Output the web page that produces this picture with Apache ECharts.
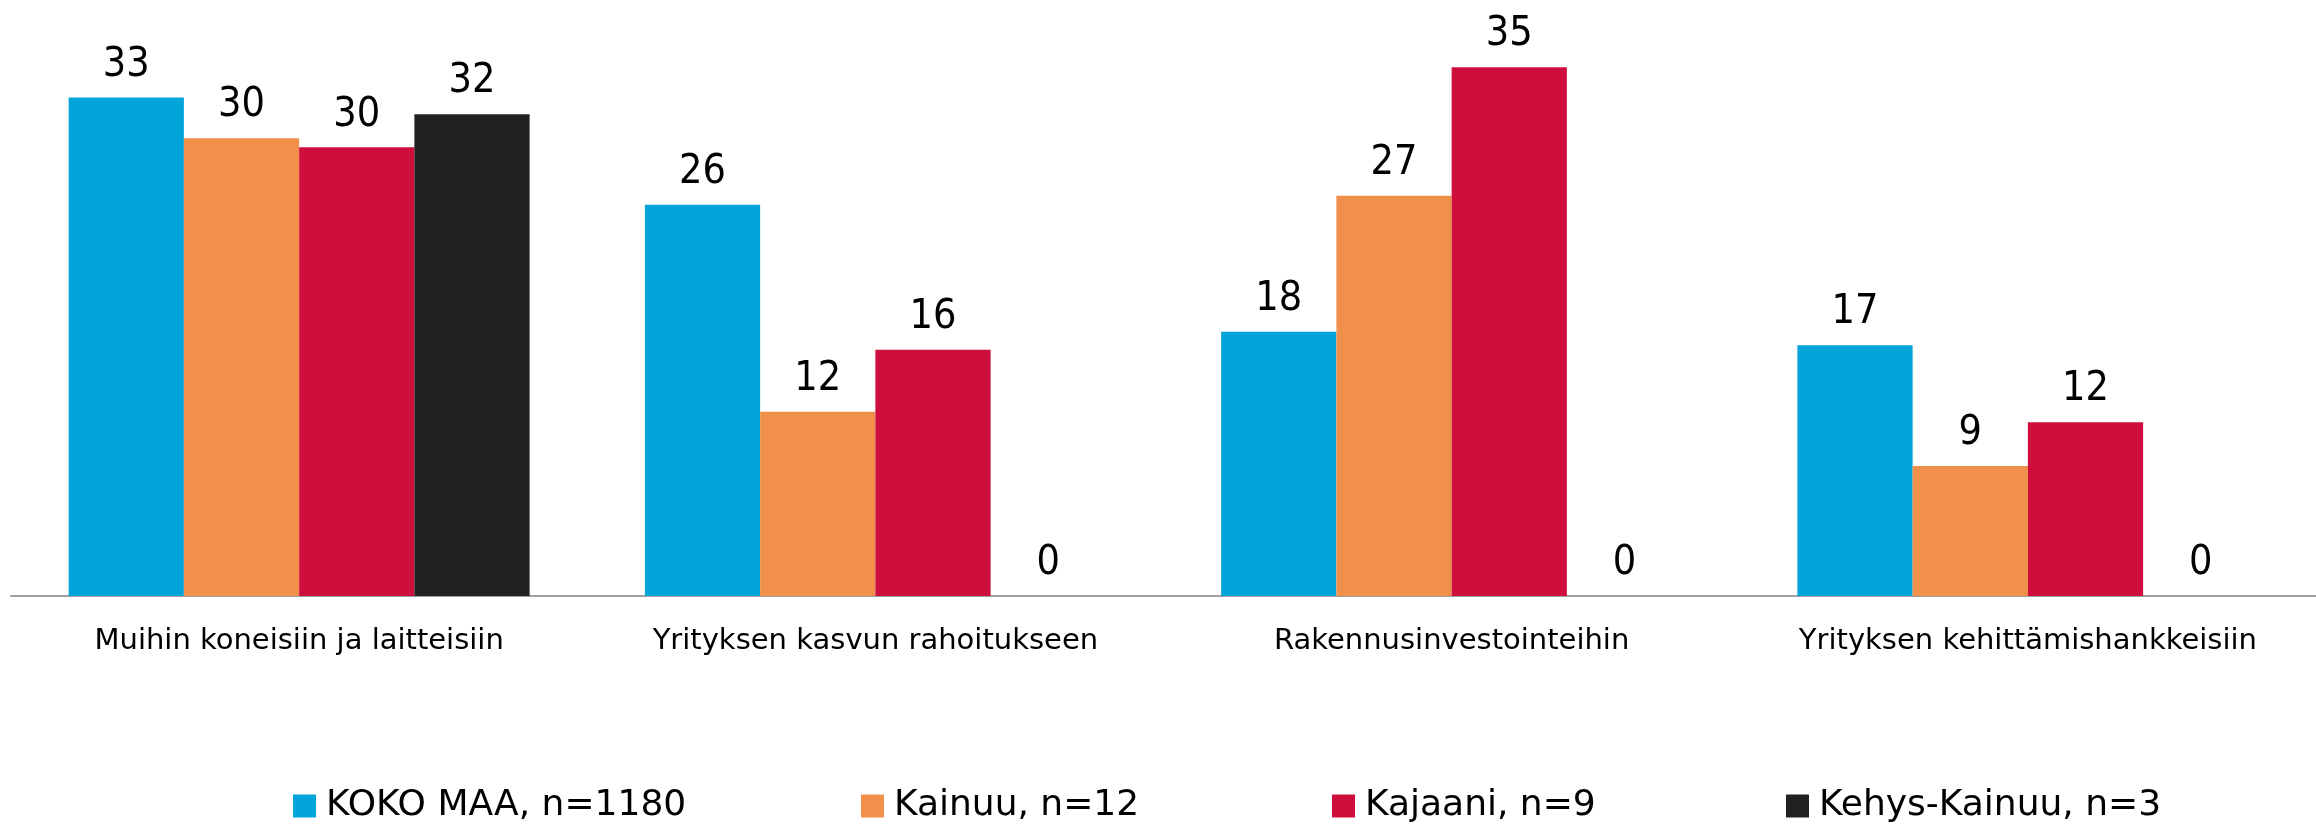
<!DOCTYPE html>
<html lang="fi">
<head>
    <meta charset="UTF-8">
    <title>Investoinnit</title>
    <script type="text/javascript" src="https://cdn.jsdelivr.net/npm/echarts@6/dist/echarts.min.js"></script>
    <style>
        html, body { margin: 0; padding: 0; background: #fff; }
    </style>
</head>
<body>
<div id="main" style="width: 2316px;height:824px;"></div>
<script type="text/javascript">
    // kategoriat ja sarjat
    var categories = ['Muihin koneisiin ja laitteisiin', 'Yrityksen kasvun rahoitukseen', 'Rakennusinvestointeihin', 'Yrityksen kehittämishankkeisiin'];
    var seriesNames = ['KOKO MAA, n=1180', 'Kainuu, n=12', 'Kajaani, n=9', 'Kehys-Kainuu, n=3'];
    var kokoMaa = [33.0, 25.9, 17.5, 16.6];
    var kainuu = [30.3, 12.2, 26.5, 8.6];
    var kajaani = [29.7, 16.3, 35.0, 11.5];
    var kehysKainuu = [31.9, 0, 0, 0];
    var colors = ['#02a4da', '#f0904b', '#ce0f3d', '#222120'];
    var legendLeft = [293, 861, 1332, 1786];

    var seriesData = [kokoMaa, kainuu, kajaani, kehysKainuu];

    var series = seriesData.map(function (d, i) {
        return {
            name: seriesNames[i],
            type: 'bar',
            data: d,
            barGap: '0%',
            barCategoryGap: '20%',
            itemStyle: { color: colors[i] },
            label: {
                show: true,
                position: 'top',
                distance: 12,
                color: '#000',
                fontFamily: 'DejaVu Sans Condensed',
                fontSize: 41,
                formatter: function (p) { return Math.round(p.value); }
            }
        };
    });

    var legends = seriesNames.map(function (n, i) {
        return {
            data: [n],
            left: legendLeft[i],
            top: 788,
            padding: 0,
            itemWidth: 23,
            itemHeight: 23,
            icon: 'rect',
            textStyle: {
                fontFamily: 'DejaVu Sans',
                fontSize: 36,
                color: '#000',
                padding: [0, 0, 0, 5]
            }
        };
    });

    var option = {
        animation: false,
        color: colors,
        legend: legends,
        grid: {
            left: 11,
            right: -15,
            top: 22,
            bottom: 228
        },
        xAxis: {
            type: 'category',
            data: categories,
            axisLine: { lineStyle: { color: '#a0a0a0', width: 2 } },
            axisTick: { show: false },
            axisLabel: {
                interval: 0,
                margin: 31,
                color: '#000',
                fontFamily: 'DejaVu Sans',
                fontSize: 29
            }
        },
        yAxis: {
            type: 'value',
            min: 0,
            max: 38,
            show: false,
            splitLine: { show: false }
        },
        series: series
    };

    var myChart = echarts.init(document.getElementById('main'));
    myChart.setOption(option);
</script>
</body>
</html>
